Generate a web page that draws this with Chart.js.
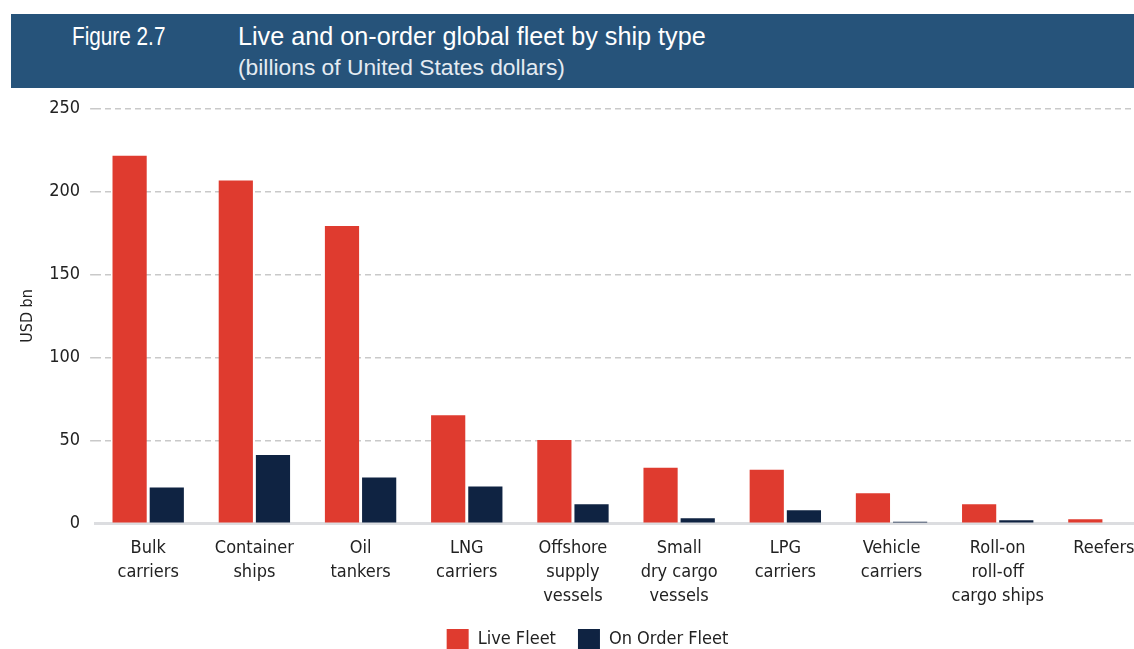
<!DOCTYPE html>
<html>
<head>
<meta charset="utf-8">
<script src="https://cdn.jsdelivr.net/npm/chart.js@4.4.1/dist/chart.umd.min.js"></script>
<style>
  html, body { margin: 0; padding: 0; background: #fff; overflow: hidden; }
  body { width: 1134px; height: 649px; position: relative; }
  #band {
    position: absolute; left: 11px; top: 14px; width: 1123px; height: 74px;
    background: #26537a; color: #fff; font-family: "Liberation Sans", Arial, sans-serif;
  }
  #fig { position: absolute; left: 61px; top: 8px; font-size: 25px; transform: scaleX(0.83); transform-origin: 0 0; white-space: nowrap; }
  #ttl { position: absolute; left: 227px; top: 8px; font-size: 25.2px; white-space: nowrap; }
  #sub { position: absolute; left: 227px; top: 40px; font-size: 22.8px; color: #e4ebf2; white-space: nowrap; }
  #wrap { position: absolute; left: 0; top: 88px; width: 1160px; height: 571px; }
</style>
</head>
<body>
<div id="band">
  <div id="fig">Figure 2.7</div>
  <div id="ttl">Live and on-order global fleet by ship type</div>
  <div id="sub">(billions of United States dollars)</div>
</div>
<div id="wrap"><canvas id="myChart"></canvas></div>
<script>
// ship types (x axis)
var shipTypes = [
  ["Bulk", "carriers"],
  ["Container", "ships"],
  ["Oil", "tankers"],
  ["LNG", "carriers"],
  ["Offshore", "supply", "vessels"],
  ["Small", "dry cargo", "vessels"],
  ["LPG", "carriers"],
  ["Vehicle", "carriers"],
  ["Roll-on", "roll-off", "cargo ships"],
  ["Reefers"]
];

// USD bn
var liveFleet = [221.7, 206.8, 179.3, 65.1, 50.2, 33.5, 32.3, 18.0, 11.4, 2.4];
var onOrderFleet = [21.5, 41.2, 27.5, 22.1, 11.4, 3.0, 7.8, 0.8, 1.8, 0];

var yTicks = [0, 50, 100, 150, 200, 250];

var narrow = "'Liberation Sans Narrow', 'Arial Narrow', 'DejaVu Sans Condensed', sans-serif";
var gridColor = "#c9c9c9";

var ctx = document.getElementById("myChart").getContext("2d");
var chart = new Chart(ctx, {
  type: "bar",
  data: {
    labels: shipTypes,
    datasets: [
      { label: "Live Fleet", data: liveFleet, backgroundColor: "#df3b2f" },
      { label: "On Order Fleet", data: onOrderFleet, backgroundColor: "#0f2342" }
    ]
  },
  options: {
    responsive: true,
    maintainAspectRatio: false,
    animation: false,
    categoryPercentage: 0.70,
    barPercentage: 0.92,
    layout: { padding: { left: 18, top: 0, right: 3, bottom: 0 } },
    plugins: {
      tooltip: { enabled: false },
      legend: {
        position: "bottom",
        labels: {
          boxWidth: 22,
          boxHeight: 20,
          padding: 22,
          color: "#222",
          font: { family: narrow, size: 18 }
        }
      }
    },
    scales: {
      x: {
        grid: { display: false, drawTicks: false },
        border: { display: true, color: "#dcdde0", width: 3 },
        ticks: {
          color: "#222",
          padding: 13,
          maxRotation: 0,
          autoSkip: false,
          font: { family: narrow, size: 18, lineHeight: 1.33 }
        },
        // labels sit close to the legend in the original
        afterFit: function (axis) { axis.height -= 14; }
      },
      y: {
        min: 0,
        max: 250,
        afterBuildTicks: function (axis) {
          axis.ticks = yTicks.map(function (v) { return { value: v }; });
        },
        grid: {
          color: function (c) { return c.tick && c.tick.value === 0 ? "rgba(0,0,0,0)" : gridColor; },
          tickColor: function (c) { return c.tick && c.tick.value === 0 ? "rgba(0,0,0,0)" : gridColor; },
          lineWidth: 1.5,
          tickLength: 5,
          tickBorderDash: [6, 4]
        },
        border: { display: false, dash: [6, 4] },
        ticks: {
          color: "#222",
          padding: 10,
          font: { family: narrow, size: 18 }
        },
        title: {
          display: true,
          text: "USD bn",
          color: "#222",
          padding: { top: 0, bottom: 2 },
          font: { family: narrow, size: 16 }
        }
      }
    }
  }
});
</script>
</body>
</html>
